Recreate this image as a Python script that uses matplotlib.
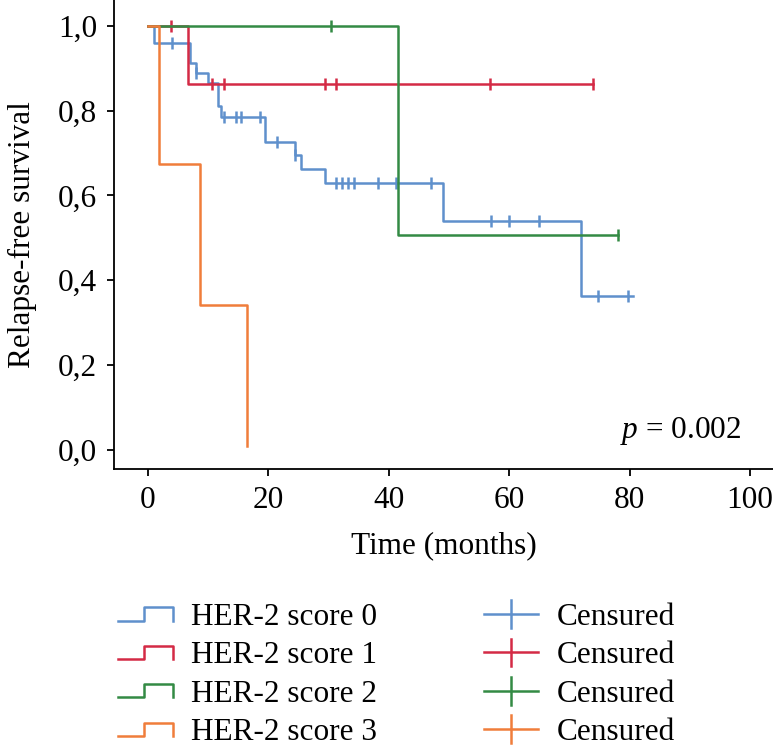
import matplotlib
matplotlib.use("Agg")
import matplotlib.pyplot as plt
from matplotlib.lines import Line2D
from matplotlib.legend_handler import HandlerBase

# ---------------- data ----------------
groups = ["HER-2 score 0", "HER-2 score 1", "HER-2 score 2", "HER-2 score 3"]

s0_event_t = [1, 7, 8, 10, 11.6, 12.2, 19.5, 24.5, 25.5, 29.5, 49, 72]
s0_event_s = [0.96, 0.913, 0.89, 0.865, 0.81, 0.786, 0.726, 0.696, 0.663, 0.63, 0.54, 0.362]
s0_end = 80.5
s0_censor = [4, 8, 12.7, 14.6, 15.5, 18.6, 21.5, 24.5, 31.3, 32.3, 33.2, 34.3,
             38.3, 41.2, 47.1, 57, 60, 65, 74.8, 79.8]

s1_event_t = [6.7]
s1_event_s = [0.863]
s1_end = 74
s1_censor = [3.8, 10.6, 12.6, 29.4, 31.3, 56.8, 74]

s2_event_t = [41.5]
s2_event_s = [0.507]
s2_end = 78
s2_censor = [30.5, 78]

s3_event_t = [1.8, 8.7, 16.5]
s3_event_s = [0.675, 0.342, 0.01]
s3_end = 16.5
s3_censor = []

xticks = [0, 20, 40, 60, 80, 100]
yticks = [0.0, 0.2, 0.4, 0.6, 0.8, 1.0]
ytick_labels = ["0,0", "0,2", "0,4", "0,6", "0,8", "1,0"]
p_text = "= 0.002"

colors = ["#5f90cc", "#d42a45", "#338a44", "#f07d3b"]

# ---------------- style ----------------
FS = 22.5
LW = 1.8
plt.rcParams["font.family"] = ["Liberation Serif", "DejaVu Serif"]
plt.rcParams["mathtext.fontset"] = "custom"
plt.rcParams["mathtext.it"] = "Liberation Serif:italic"
plt.rcParams["mathtext.rm"] = "Liberation Serif"

fig = plt.figure(figsize=(7.73, 7.56), dpi=100)
ax = fig.add_axes([114 / 773, 1 - 469 / 756, 1 - 114 / 773, 469 / 756])

series = [
    (s0_event_t, s0_event_s, s0_end, s0_censor),
    (s1_event_t, s1_event_s, s1_end, s1_censor),
    (s2_event_t, s2_event_s, s2_end, s2_censor),
    (s3_event_t, s3_event_s, s3_end, s3_censor),
]

def km_xy(et, es, end):
    xs = [0] + list(et) + [end]
    ys = [1.0] + list(es) + [es[-1]]
    return xs, ys

def surv_at(t, et, es):
    s = 1.0
    for tt, ss in zip(et, es):
        if t >= tt:
            s = ss
    return s

order = [2, 0, 1, 3]
for i in order:
    et, es, end, cen = series[i]
    xs, ys = km_xy(et, es, end)
    ax.step(xs, ys, where="post", color=colors[i], lw=LW, zorder=2 + i)
    if cen:
        cy = [surv_at(c, et, es) for c in cen]
        ax.plot(cen, cy, ls="none", marker="|", ms=9, mew=LW,
                color=colors[i], zorder=2 + i)

ax.set_xlim(-5.6, 103.8)
ax.set_ylim(-0.045, 1.061)
ax.set_xticks(xticks)
ax.set_xticklabels([str(v) for v in xticks], fontsize=FS)
ax.set_yticks(yticks)
ax.set_yticklabels(ytick_labels, fontsize=FS)
ax.tick_params(axis="both", direction="out", length=5, width=1.3, pad=7)
for s in ["top", "right"]:
    ax.spines[s].set_visible(False)
for s in ["left", "bottom"]:
    ax.spines[s].set_linewidth(1.3)

ax.set_xlabel("Time (months)", fontsize=FS, labelpad=12)
ax.set_ylabel("Relapse-free survival", fontsize=FS, labelpad=15)

ax.text(98.5, 0.045, r"$p$ " + p_text, fontsize=FS, ha="right", va="center")

# ---------------- legend ----------------
class StepHandler(HandlerBase):
    def create_artists(self, legend, orig_handle, xdescent, ydescent,
                       width, height, fontsize, trans):
        x0 = -xdescent
        yc = -ydescent + height / 2
        h = 4.8
        xm = x0 + 0.47 * width
        xs = [x0, xm, xm, x0 + width, x0 + width]
        ys = [yc - h, yc - h, yc + h, yc + h, yc - h]
        ln = Line2D(xs, ys, color=orig_handle.get_color(), lw=LW,
                    transform=trans)
        return [ln]

class CensorHandler(HandlerBase):
    def create_artists(self, legend, orig_handle, xdescent, ydescent,
                       width, height, fontsize, trans):
        x0 = -xdescent
        yc = -ydescent + height / 2
        h = 10
        l1 = Line2D([x0, x0 + width], [yc, yc], color=orig_handle.get_color(),
                    lw=LW, transform=trans)
        l2 = Line2D([x0 + width / 2, x0 + width / 2], [yc - h, yc + h],
                    color=orig_handle.get_color(), lw=LW, transform=trans)
        return [l1, l2]

class StepProxy(Line2D):
    pass

class CensorProxy(Line2D):
    pass

handles = [StepProxy([], [], color=c) for c in colors] + \
          [CensorProxy([], [], color=c) for c in colors]
labels = groups + ["Censured"] * 4

fig.legend(handles, labels, loc="upper left",
           bbox_to_anchor=(118 / 773, 1 - 603 / 756),
           ncol=2, frameon=False, fontsize=FS, borderpad=0, borderaxespad=0,
           handlelength=1.75, handletextpad=0.6, columnspacing=3.4,
           labelspacing=0.3,
           handler_map={StepProxy: StepHandler(), CensorProxy: CensorHandler()})

fig.savefig("out.png", dpi=100)
